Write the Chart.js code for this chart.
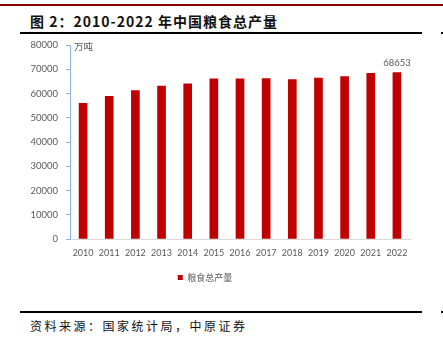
<!DOCTYPE html>
<html>
<head>
<meta charset="utf-8">
<script src="https://cdn.jsdelivr.net/npm/chart.js@4"></script>
<style>
  html, body { margin: 0; padding: 0; background: #fff; }
  #page { position: relative; width: 443px; height: 350px; overflow: hidden; font-family: "Noto Sans CJK SC", sans-serif; }
  .rule { position: absolute; height: 2px; background: #000; }
  #topline { left: 0; top: 4px; width: 443px; height: 2px; background: #8b0000; }
  #title { position: absolute; left: 30px; top: 11px; font-size: 14px; font-weight: bold; color: #111; letter-spacing: 1px; white-space: nowrap; }
  #source { position: absolute; left: 30px; top: 317px; font-size: 12px; color: #111; letter-spacing: 2.5px; white-space: nowrap; }
  #chartWrap { position: absolute; left: 0; top: 0; width: 443px; height: 292px; }
</style>
</head>
<body>
<div id="page">
  <div id="topline" class="rule"></div>
  <div id="title">图 2：2010-2022 年中国粮食总产量</div>
  <div class="rule" style="left:20px; top:32px; width:402px;"></div>
  <div class="rule" style="left:441px; top:32px; width:2px;"></div>
  <div id="chartWrap"><canvas id="c" width="443" height="292"></canvas></div>
  <div class="rule" style="left:20px; top:311px; width:402px;"></div>
  <div class="rule" style="left:441px; top:311px; width:2px;"></div>
  <div id="source">资料来源：国家统计局，中原证券</div>
</div>
<script>
// -- data (万吨) --
const years = ['2010', '2011', '2012', '2013', '2014', '2015', '2016', '2017', '2018', '2019', '2020', '2021', '2022'];
const grainOutput = [55911, 58849, 61223, 63048, 63965, 66060, 66044, 66161, 65789, 66384, 66949, 68285, 68653];
const yTicks = [0, 10000, 20000, 30000, 40000, 50000, 60000, 70000, 80000];
const seriesName = '粮食总产量';
const unitLabel = '万吨';

const TEXT_GRAY = '#595959';
const BAR_RED = '#c00000';
const FONT = "Lato, 'Noto Sans', sans-serif";

// unit label + value label on the last bar
const annotate = {
    id: 'annotate',
    afterDatasetsDraw(chart) {
        const { ctx, chartArea } = chart;
        ctx.save();
        ctx.fillStyle = TEXT_GRAY;
        ctx.font = "9.5px 'Noto Sans CJK SC', sans-serif";
        ctx.textBaseline = 'middle';
        ctx.textAlign = 'left';
        ctx.fillText(unitLabel, chartArea.left + 4, chartArea.top + 1);

        const meta = chart.getDatasetMeta(0);
        const last = meta.data[meta.data.length - 1];
        ctx.font = '9.5px ' + FONT;
        ctx.textAlign = 'center';
        ctx.textBaseline = 'bottom';
        ctx.fillText(String(grainOutput[grainOutput.length - 1]), last.x, last.y - 5);
        ctx.restore();
    },
};

new Chart(document.getElementById('c'), {
    type: 'bar',
    data: {
        labels: years,
        datasets: [{
            label: seriesName,
            data: grainOutput,
            backgroundColor: BAR_RED,
            borderWidth: 0,
            barThickness: 8,
        }],
    },
    options: {
        responsive: false,
        animation: false,
        layout: { padding: { top: 45, right: 33, left: 0, bottom: 0 } },
        plugins: {
            tooltip: { enabled: false },
            legend: {
                position: 'bottom',
                labels: {
                    color: TEXT_GRAY,
                    font: { size: 9, family: "'Noto Sans CJK SC', sans-serif" },
                    boxWidth: 5,
                    boxHeight: 5,
                    padding: 10,
                },
            },
        },
        scales: {
            x: {
                grid: { display: false },
                border: { color: '#d9d9d9', width: 1 },
                ticks: { color: TEXT_GRAY, font: { size: 9, family: FONT }, padding: 1, maxRotation: 0 },
                afterFit: (s) => { s.height = 24; },
            },
            y: {
                min: 0,
                max: 80000,
                afterBuildTicks: (s) => { s.ticks = yTicks.map((v) => ({ value: v })); },
                grid: { display: true, drawOnChartArea: false, drawTicks: true, tickLength: 4, color: '#8eb4e3' },
                border: { color: '#8eb4e3', width: 1 },
                ticks: { color: TEXT_GRAY, font: { size: 9.5, family: FONT }, padding: 8, callback: (v) => String(v) },
                afterFit: (s) => { s.width = 70; },
            },
        },
    },
    plugins: [annotate],
});
</script>
</body>
</html>
